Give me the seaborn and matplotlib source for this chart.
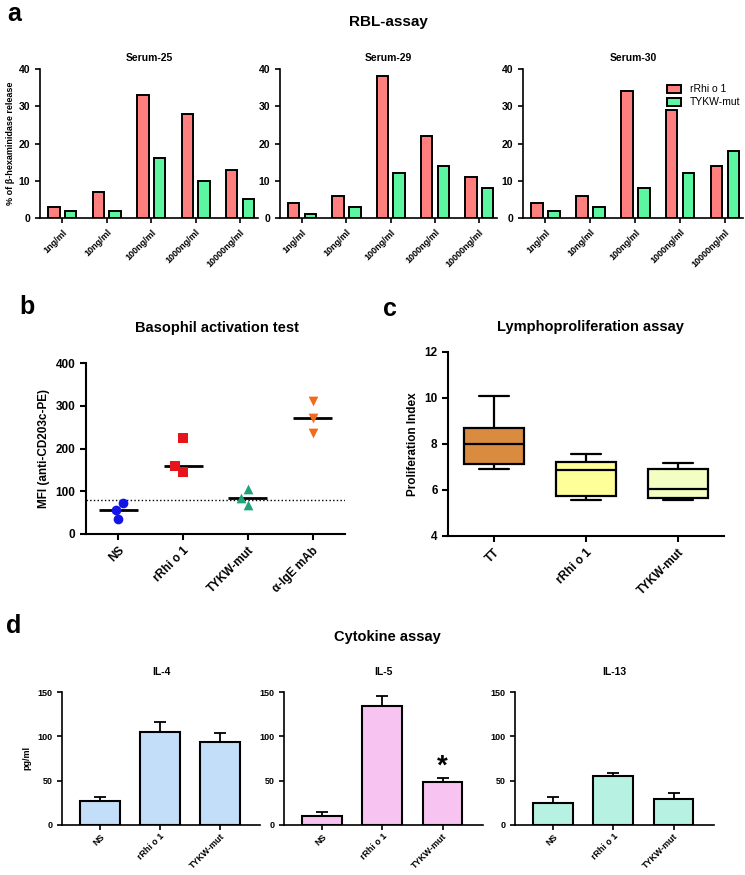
import numpy as np
import pandas as pd
import seaborn as sns
import matplotlib.pyplot as plt

# ---- data ----
# a: RBL assay, % beta-hexaminidase release
doses = ['1ng/ml', '10ng/ml', '100ng/ml', '1000ng/ml', '10000ng/ml']
sera = ['Serum-25', 'Serum-29', 'Serum-30']
s25_rrhi = [3, 7, 33, 28, 13]
s25_tykw = [2, 2, 16, 10, 5]
s29_rrhi = [4, 6, 38, 22, 11]
s29_tykw = [1, 3, 12, 14, 8]
s30_rrhi = [4, 6, 34, 29, 14]
s30_tykw = [2, 3, 8, 12, 18]
allergens = ['rRhi o 1', 'TYKW-mut']

# b: basophil activation test (MFI)
bat_groups = ['NS', 'rRhi o 1', 'TYKW-mut', 'α-IgE mAb']
bat_ns = [72, 57, 35]
bat_rrhi = [225, 160, 145]
bat_tykw = [105, 85, 68]
bat_ige = [310, 272, 237]
bat_cutoff = 80

# c: lymphoproliferation (min, Q1, median, Q3, max)
lpa_groups = ['TT', 'rRhi o 1', 'TYKW-mut']
lpa_tt = [6.93, 7.14, 7.99, 8.68, 10.1]
lpa_rrhi = [5.58, 5.72, 6.86, 7.22, 7.58]
lpa_tykw = [5.58, 5.67, 6.06, 6.90, 7.19]

# d: cytokines, mean and error (pg/ml)
cyt_groups = ['NS', 'rRhi o 1', 'TYKW-mut']
il4_mean = [27.5, 105, 94]
il4_err = [4, 11, 10]
il5_mean = [10.5, 134, 48]
il5_err = [4.5, 11, 5.5]
il13_mean = [24.5, 55.5, 29]
il13_err = [7.5, 3.5, 7]

sns.set_style('ticks')
plt.rcParams['font.family'] = ['Liberation Sans', 'DejaVu Sans']
plt.rcParams['font.weight'] = 'bold'
plt.rcParams['axes.labelweight'] = 'bold'
plt.rcParams['axes.titleweight'] = 'bold'
for k in ['text.color', 'axes.labelcolor', 'xtick.color', 'ytick.color', 'axes.edgecolor']:
    plt.rcParams[k] = 'black'

W, H = 745, 875
fig = plt.figure(figsize=(W / 100, H / 100), dpi=100)


def box(x0, x1, ytop, ybot):
    # pixel box -> figure fraction
    return [x0 / W, 1 - ybot / H, (x1 - x0) / W, (ybot - ytop) / H]


def style(ax, lw, tl):
    sns.despine(ax=ax)
    for s in ['left', 'bottom']:
        ax.spines[s].set_linewidth(lw)
    ax.tick_params(width=lw, length=tl, color='black')


def ftext(x, y, s, size):
    fig.text(x / W, 1 - y / H, s, ha='center', va='center', fontsize=size, fontweight='bold')


# ---- a ----
ftext(14, 14, 'a', 18)
ftext(388, 22, 'RBL-assay', 11)
rbl = {'Serum-25': (s25_rrhi, s25_tykw), 'Serum-29': (s29_rrhi, s29_tykw),
       'Serum-30': (s30_rrhi, s30_tykw)}
a_pos = [(40, 258), (280, 497), (523, 743)]
for i, serum in enumerate(sera):
    ax = fig.add_axes(box(a_pos[i][0], a_pos[i][1], 69, 218))
    r, t = rbl[serum]
    df = pd.DataFrame({'dose': doses * 2, 'val': r + t,
                       'antigen': [allergens[0]] * 5 + [allergens[1]] * 5})
    sns.barplot(data=df, x='dose', y='val', hue='antigen', order=doses,
                palette=['#FF7F7F', '#5CF5A0'], saturation=1, width=0.76, gap=0.32,
                edgecolor='black', linewidth=1.4, ax=ax, legend=(i == 2))
    ax.set_ylim(0, 40)
    ax.set_xlim(-0.5, 4.4)
    ax.set_yticks([0, 10, 20, 30, 40])
    ax.set_xlabel('')
    ax.set_ylabel('% of β-hexaminidase release' if i == 0 else '', fontsize=6.5, labelpad=3)
    ax.set_title(serum, fontsize=7.5, pad=6)
    ax.tick_params(axis='y', labelsize=7.5)
    ax.tick_params(axis='x', labelsize=6.5)
    plt.setp(ax.get_xticklabels(), rotation=45, ha='right', rotation_mode='anchor')
    style(ax, 1.2, 3.5)
    if i == 2:
        ax.legend(frameon=False, loc='upper right', bbox_to_anchor=(1.03, 0.96),
                  prop={'size': 7.5, 'weight': 'normal'}, handlelength=1.4,
                  handleheight=0.8, labelspacing=0.3)

# ---- b ----
ftext(27, 307, 'b', 18)
ftext(217, 328, 'Basophil activation test', 10.5)
ax = fig.add_axes(box(86, 345, 363, 534))
bat_vals = [bat_ns, bat_rrhi, bat_tykw, bat_ige]
bat_marks = ['o', 's', '^', 'v']
bat_cols = ['#1414E6', '#E8141C', '#1FA27A', '#F26B1D']
for g, v, m, c in zip(bat_groups, bat_vals, bat_marks, bat_cols):
    d = pd.DataFrame({'group': [g] * len(v), 'mfi': v})
    sns.swarmplot(data=d, x='group', y='mfi', order=bat_groups, marker=m,
                  color=c, size=7, ax=ax)
meds = [np.median(v) for v in bat_vals]
ax.hlines(meds, np.arange(4) - 0.3, np.arange(4) + 0.3, color='black', lw=2)
ax.axhline(bat_cutoff, ls=':', color='black', lw=1)
ax.set_ylim(0, 400)
ax.set_xlim(-0.5, 3.5)
ax.set_yticks([0, 100, 200, 300, 400])
ax.set_xlabel('')
ax.set_ylabel('MFI (anti-CD203c-PE)', fontsize=8.5)
ax.tick_params(labelsize=8.5)
plt.setp(ax.get_xticklabels(), rotation=45, ha='right', rotation_mode='anchor')
style(ax, 1.5, 4)

# ---- c ----
ftext(390, 309, 'c', 18)
ftext(590, 327, 'Lymphoproliferation assay', 10.5)
ax = fig.add_axes(box(448, 724, 352, 536))
lpa = pd.DataFrame({'group': np.repeat(lpa_groups, 5),
                    'pi': lpa_tt + lpa_rrhi + lpa_tykw})
sns.boxplot(data=lpa, x='group', y='pi', hue='group', order=lpa_groups,
            palette=['#D98C3F', '#FFFF9A', '#F3FFC2'], saturation=1, whis=(0, 100),
            width=0.66, linewidth=1.6, linecolor='black', legend=False, ax=ax)
ax.set_ylim(4, 12)
ax.set_xlim(-0.5, 2.5)
ax.set_yticks([4, 6, 8, 10, 12])
ax.set_xlabel('')
ax.set_ylabel('Proliferation Index', fontsize=8.5)
ax.tick_params(labelsize=8.5)
plt.setp(ax.get_xticklabels(), rotation=45, ha='right', rotation_mode='anchor')
style(ax, 1.5, 4)

# ---- d ----
ftext(14, 626, 'd', 18)
ftext(387, 637, 'Cytokine assay', 10.5)
cyt = [('IL-4', il4_mean, il4_err, '#C3DEF8', 62, 260),
       ('IL-5', il5_mean, il5_err, '#F7C4F1', 284, 483),
       ('IL-13', il13_mean, il13_err, '#B6F1E1', 515, 714)]
for j, (name, mean, err, col, x0, x1) in enumerate(cyt):
    ax = fig.add_axes(box(x0, x1, 692, 825))
    sns.barplot(x=cyt_groups, y=mean, color=col, saturation=1, width=0.66,
                edgecolor='black', linewidth=1.5, ax=ax)
    ax.errorbar(np.arange(3), mean, yerr=[np.zeros(3), err], fmt='none',
                ecolor='black', elinewidth=1.3, capsize=4.5, capthick=1.3)
    ax.set_ylim(0, 150)
    ax.set_xlim(-0.63, 2.67)
    ax.set_yticks([0, 50, 100, 150])
    ax.set_ylabel('pg/ml' if j == 0 else '', fontsize=6.5)
    ax.set_title(name, fontsize=7.5, pad=12)
    ax.tick_params(axis='y', labelsize=6.5)
    ax.tick_params(axis='x', labelsize=6.4, pad=1.5)
    plt.setp(ax.get_xticklabels(), rotation=45, ha='right', rotation_mode='anchor')
    style(ax, 1.2, 3.5)
    if name == 'IL-5':
        ax.text(2, mean[2] + err[2] - 2, '*', ha='center', va='bottom', fontsize=20)

fig.savefig('out.png', dpi=100)
